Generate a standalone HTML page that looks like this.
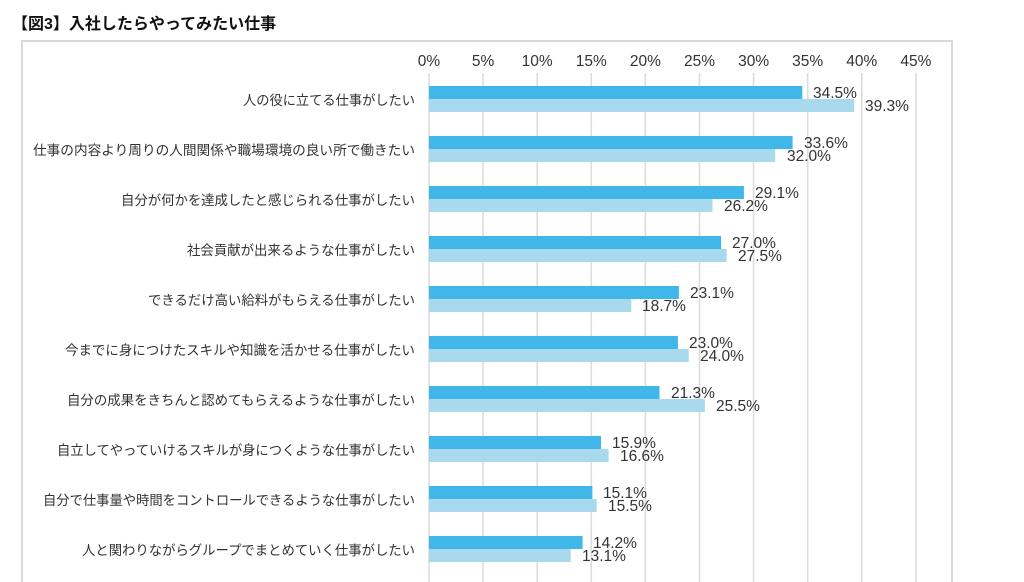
<!DOCTYPE html>
<html><head><meta charset="utf-8"><style>
html,body{margin:0;padding:0;background:#fff;}
svg{display:block;}
</style></head><body>
<svg width="1024" height="582" viewBox="0 0 1024 582" xmlns="http://www.w3.org/2000/svg">
<rect x="0" y="0" width="1024" height="582" fill="#fff"/>
<text x="12" y="29" font-family="'Liberation Sans','Noto Sans CJK JP',sans-serif" font-size="16" font-weight="bold" fill="#111">【図3】入社したらやってみたい仕事</text>
<rect x="22" y="41" width="930" height="560" fill="none" stroke="#d9d9d9" stroke-width="2"/>
<g stroke="#dcdcdc" stroke-width="1.6">
<line x1="429" y1="73" x2="429" y2="582"/>
<line x1="483.1" y1="73" x2="483.1" y2="582"/>
<line x1="537.2" y1="73" x2="537.2" y2="582"/>
<line x1="591.3" y1="73" x2="591.3" y2="582"/>
<line x1="645.4" y1="73" x2="645.4" y2="582"/>
<line x1="699.5" y1="73" x2="699.5" y2="582"/>
<line x1="753.6" y1="73" x2="753.6" y2="582"/>
<line x1="807.7" y1="73" x2="807.7" y2="582"/>
<line x1="861.8" y1="73" x2="861.8" y2="582"/>
<line x1="915.9" y1="73" x2="915.9" y2="582"/>
</g>
<g font-family="'Liberation Sans',sans-serif" font-size="15.5" fill="#333" text-anchor="middle">
<text x="429" y="66">0%</text>
<text x="483.1" y="66">5%</text>
<text x="537.2" y="66">10%</text>
<text x="591.3" y="66">15%</text>
<text x="645.4" y="66">20%</text>
<text x="699.5" y="66">25%</text>
<text x="753.6" y="66">30%</text>
<text x="807.7" y="66">35%</text>
<text x="861.8" y="66">40%</text>
<text x="915.9" y="66">45%</text>
</g>
<g font-family="'Liberation Sans','Noto Sans CJK JP',sans-serif" font-size="13.6" fill="#333" lengthAdjust="spacingAndGlyphs">
<text x="243" y="105" textLength="172" lengthAdjust="spacingAndGlyphs">人の役に立てる仕事がしたい</text>
<text x="33" y="155" textLength="382" lengthAdjust="spacingAndGlyphs">仕事の内容より周りの人間関係や職場環境の良い所で働きたい</text>
<text x="121" y="205" textLength="294" lengthAdjust="spacingAndGlyphs">自分が何かを達成したと感じられる仕事がしたい</text>
<text x="187" y="255" textLength="228" lengthAdjust="spacingAndGlyphs">社会貢献が出来るような仕事がしたい</text>
<text x="148" y="305" textLength="267" lengthAdjust="spacingAndGlyphs">できるだけ高い給料がもらえる仕事がしたい</text>
<text x="65" y="355" textLength="350" lengthAdjust="spacingAndGlyphs">今までに身につけたスキルや知識を活かせる仕事がしたい</text>
<text x="67" y="405" textLength="348" lengthAdjust="spacingAndGlyphs">自分の成果をきちんと認めてもらえるような仕事がしたい</text>
<text x="57" y="455" textLength="358" lengthAdjust="spacingAndGlyphs">自立してやっていけるスキルが身につくような仕事がしたい</text>
<text x="43" y="505" textLength="372" lengthAdjust="spacingAndGlyphs">自分で仕事量や時間をコントロールできるような仕事がしたい</text>
<text x="82" y="555" textLength="333" lengthAdjust="spacingAndGlyphs">人と関わりながらグループでまとめていく仕事がしたい</text>
</g>
<g fill="#41b7e9">
<rect x="429" y="86" width="373.3" height="13"/>
<rect x="429" y="136" width="363.6" height="13"/>
<rect x="429" y="186" width="314.9" height="13"/>
<rect x="429" y="236" width="292.1" height="13"/>
<rect x="429" y="286" width="249.9" height="13"/>
<rect x="429" y="336" width="248.9" height="13"/>
<rect x="429" y="386" width="230.5" height="13"/>
<rect x="429" y="436" width="172.0" height="13"/>
<rect x="429" y="486" width="163.4" height="13"/>
<rect x="429" y="536" width="153.6" height="13"/>
</g>
<g fill="#a9d9ec">
<rect x="429" y="99" width="425.2" height="13"/>
<rect x="429" y="149" width="346.2" height="13"/>
<rect x="429" y="199" width="283.5" height="13"/>
<rect x="429" y="249" width="297.6" height="13"/>
<rect x="429" y="299" width="202.3" height="13"/>
<rect x="429" y="349" width="259.7" height="13"/>
<rect x="429" y="399" width="275.9" height="13"/>
<rect x="429" y="449" width="179.6" height="13"/>
<rect x="429" y="499" width="167.7" height="13"/>
<rect x="429" y="549" width="141.7" height="13"/>
</g>
<g font-family="'Liberation Sans',sans-serif" font-size="15.5" fill="#333">
<text x="813" y="98">34.5%</text>
<text x="865" y="111">39.3%</text>
<text x="804" y="148">33.6%</text>
<text x="787" y="161">32.0%</text>
<text x="755" y="198">29.1%</text>
<text x="724" y="211">26.2%</text>
<text x="732" y="248">27.0%</text>
<text x="738" y="261">27.5%</text>
<text x="690" y="298">23.1%</text>
<text x="642" y="311">18.7%</text>
<text x="689" y="348">23.0%</text>
<text x="700" y="361">24.0%</text>
<text x="671" y="398">21.3%</text>
<text x="716" y="411">25.5%</text>
<text x="612" y="448">15.9%</text>
<text x="620" y="461">16.6%</text>
<text x="603" y="498">15.1%</text>
<text x="608" y="511">15.5%</text>
<text x="593" y="548">14.2%</text>
<text x="582" y="561">13.1%</text>
</g>
</svg>
</body></html>
